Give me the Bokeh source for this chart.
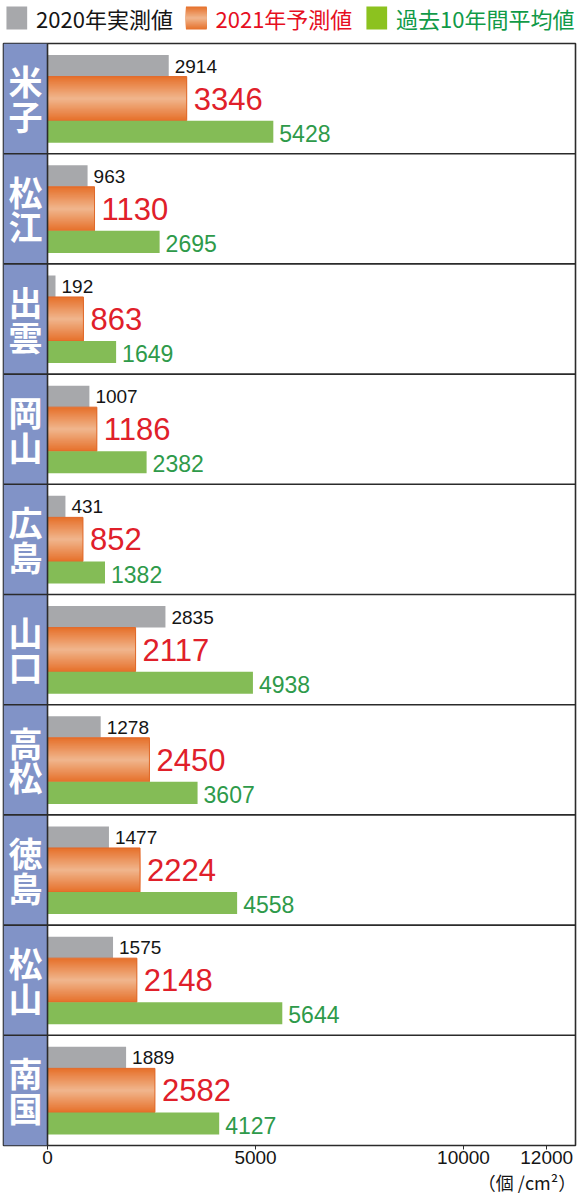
import numpy as np
from bokeh.plotting import figure
from bokeh.models import Range1d, FixedTicker, Span, Title
from bokeh.layouts import column
from bokeh.embed import file_html
from bokeh.resources import INLINE
from bokeh.core.properties import value

# ---------------- data ----------------
regions = ["米子", "松江", "出雲", "岡山", "広島", "山口", "高松", "徳島", "松山", "南国"]
actual_2020 = [2914, 963, 192, 1007, 431, 2835, 1278, 1477, 1575, 1889]
forecast_2021 = [3346, 1130, 863, 1186, 852, 2117, 2450, 2224, 2148, 2582]
avg_10yr = [5428, 2695, 1649, 2382, 1382, 4938, 3607, 4558, 5644, 4127]
series_labels = ["2020年実測値", "2021年予測値", "過去10年間平均値"]
x_ticks = [0, 5000, 10000, 12000]
unit_label = "（個 /cm²）"

# ---------------- styles ----------------
GRAY = "#a7a8ab"
GREEN_BAR = "#84bc56"
GREEN_LEG = "#8cc21f"
OR_EDGE = (230, 113, 44)
OR_MID = (241, 184, 144)
COLUMN_BG = "#8193c7"
BORDER = "#2b2b2b"
TXT_BLACK = "#151515"
TXT_RED = "#e0202a"
TXT_GREEN = "#2e9a4a"
LEG_RED = "#e60f1f"
LEG_GREEN = "#119a48"
NUM_FONT = value("Liberation Sans")
JP_FONT = value("Noto Sans CJK JP")


def orange_at(d):
    """d = 0 at the bar centre line, 1 at its top/bottom edge"""
    d = min(1.0, max(0.0, d))
    r, g, b = (int(round(m + (e - m) * d)) for m, e in zip(OR_MID, OR_EDGE))
    return "#%02x%02x%02x" % (r, g, b)


N_LAYERS = 20
X_START, X_END = -1058, 12692

# ---------------- legend figure ----------------
lg = figure(width=580, height=38, x_range=Range1d(0, 580), y_range=Range1d(38, 0),
            output_backend="svg", toolbar_location=None,
            min_border=0, outline_line_color=None)
lg.axis.visible = False
lg.grid.visible = False

sq_x = [3, 185, 368]
sq_w = 21
sq_top, sq_bot = 6, 29
sq_mid = (sq_top + sq_bot) / 2
txt_x = [33, 215, 398]
lg.quad(left=[sq_x[0]], right=[sq_x[0] + sq_w], top=[sq_top], bottom=[sq_bot],
        fill_color=GRAY, line_color=None)
for k in range(N_LAYERS):
    f = 1 - k / N_LAYERS
    half = (sq_bot - sq_top) / 2 * f
    lg.quad(left=[sq_x[1]], right=[sq_x[1] + sq_w], top=[sq_mid - half], bottom=[sq_mid + half],
            fill_color=orange_at(f), line_color=None)
lg.quad(left=[sq_x[2]], right=[sq_x[2] + sq_w], top=[sq_top], bottom=[sq_bot],
        fill_color=GREEN_LEG, line_color=None)
lg.text(x=txt_x, y=[sq_mid] * 3, text=series_labels,
        text_color=[TXT_BLACK, LEG_RED, LEG_GREEN],
        text_font=JP_FONT, text_font_size="22px",
        text_baseline="middle", text_align="left")

# ---------------- main figure ----------------
n = len(regions)
idx = np.arange(n)

p = figure(width=580, height=1156,
           x_range=Range1d(X_START, X_END), y_range=Range1d(n, 0),
           output_backend="svg", toolbar_location=None,
           min_border_left=3, min_border_right=5, min_border_top=5, min_border_bottom=0)
p.yaxis.visible = False
p.grid.visible = False
p.outline_line_color = BORDER
p.outline_line_width = 1.6
p.background_fill_color = "white"

# label column
p.quad(left=[X_START], right=[0], top=[0], bottom=[n],
       fill_color=COLUMN_BG, line_color=None)

# 2020 bars
p.hbar(y=idx + 0.2025, height=0.195, left=0, right=actual_2020,
       fill_color=GRAY, line_color=None)
# 2021 bars: vertical gradient built from nested layers (edge -> centre)
for k in range(N_LAYERS):
    f = 1 - k / N_LAYERS
    p.hbar(y=idx + 0.50, height=0.40 * f, left=0, right=forecast_2021,
           fill_color=orange_at(f), line_color=None)
p.hbar(y=idx + 0.50, height=0.40, left=0, right=forecast_2021,
       fill_color=None, line_color="#e0692a", line_width=1)
# 10-year average bars
p.hbar(y=idx + 0.80, height=0.20, left=0, right=avg_10yr,
       fill_color=GREEN_BAR, line_color=None)

# value labels
p.text(x=actual_2020, y=idx + 0.205, text=[str(v) for v in actual_2020],
       x_offset=6, text_baseline="middle", text_align="left",
       text_font=NUM_FONT, text_font_size="19px", text_color=TXT_BLACK)
p.text(x=forecast_2021, y=idx + 0.50, text=[str(v) for v in forecast_2021],
       x_offset=7, text_baseline="middle", text_align="left",
       text_font=NUM_FONT, text_font_size="31px", text_color=TXT_RED)
p.text(x=avg_10yr, y=idx + 0.815, text=[str(v) for v in avg_10yr],
       x_offset=6, text_baseline="middle", text_align="left",
       text_font=NUM_FONT, text_font_size="23px", text_color=TXT_GREEN)

# region names, stacked vertically in the label column
col_center = X_START / 2
p.text(x=[col_center] * n, y=idx + 0.34, text=[r[0] for r in regions],
       text_align="center", text_baseline="middle", text_font=JP_FONT,
       text_font_size="34px", text_font_style="bold", text_color="white")
p.text(x=[col_center] * n, y=idx + 0.655, text=[r[1] for r in regions],
       text_align="center", text_baseline="middle", text_font=JP_FONT,
       text_font_size="34px", text_font_style="bold", text_color="white")

# panel separators
for i in range(1, n):
    p.add_layout(Span(location=i, dimension="width", line_color=BORDER, line_width=1.6))
p.add_layout(Span(location=0, dimension="height", line_color=BORDER, line_width=1.6))

# x axis
p.xaxis.ticker = FixedTicker(ticks=x_ticks)
p.xaxis.axis_line_color = None
p.xaxis.major_tick_line_color = BORDER
p.xaxis.major_tick_out = 4
p.xaxis.major_tick_in = 0
p.xaxis.minor_tick_line_color = None
p.xaxis.major_label_standoff = 1
p.xaxis.major_label_text_font = "Liberation Sans"
p.xaxis.major_label_text_font_size = "19px"
p.xaxis.major_label_text_color = TXT_BLACK

p.add_layout(Title(text=unit_label, align="right", text_font="Noto Sans CJK JP",
                   text_font_size="18px", text_font_style="normal",
                   text_color=TXT_BLACK, standoff=0), "below")

layout = column(lg, p)
open("out.html", "w").write(file_html(layout, INLINE))
